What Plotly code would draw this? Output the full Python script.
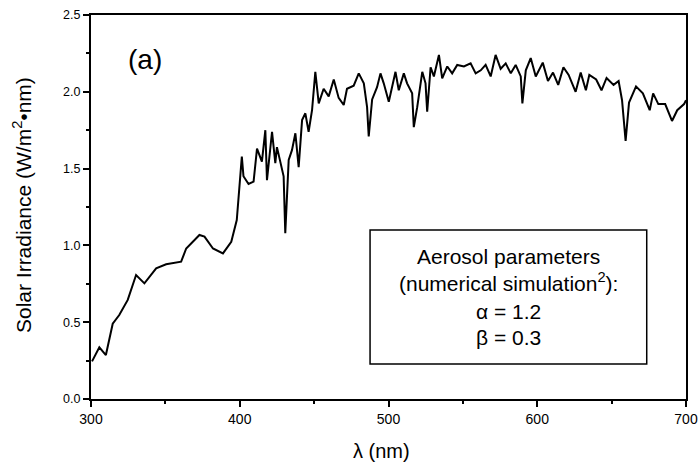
import plotly.graph_objects as go

# Wavelength (nm) and solar irradiance (W/m^2*nm)
wavelength = [
    300.7, 305.6, 310.0, 314.6, 319.0, 324.7, 330.3, 335.9, 343.8, 350.5,
    360.6, 364.0, 372.9, 376.3, 382.0, 388.7, 394.3, 398.0, 401.4, 402.5,
    405.9, 409.3, 411.6, 414.9, 417.2, 418.3, 421.7, 423.9, 425.0, 427.3,
    429.5, 430.6, 432.9, 435.1, 437.4, 439.6, 441.9, 444.1, 446.3, 448.6,
    450.8, 453.1, 456.4, 459.8, 463.2, 466.5, 469.9, 472.1, 476.6, 480.0,
    483.4, 485.6, 486.7, 489.0, 492.3, 494.6, 496.8, 500.2, 504.7, 506.9,
    510.3, 512.5, 515.9, 517.0, 519.3, 522.7, 524.9, 526.0, 528.3, 530.5,
    533.9, 536.1, 539.5, 542.8, 546.2, 550.7, 555.2, 558.6, 562.0, 565.3,
    568.7, 572.0, 575.4, 578.8, 582.2, 585.5, 588.9, 590.0, 592.3, 595.6,
    599.0, 603.7, 607.2, 610.6, 614.1, 617.6, 621.1, 625.8, 629.2, 632.7,
    635.0, 639.6, 643.2, 646.6, 651.3, 654.7, 657.0, 659.4, 661.7, 666.4,
    671.0, 675.6, 677.9, 681.4, 686.0, 690.6, 694.1, 698.7, 700.0,
]
irradiance = [
    0.245, 0.336, 0.286, 0.49, 0.547, 0.645, 0.807, 0.753, 0.85, 0.877,
    0.894, 0.98, 1.068, 1.057, 0.98, 0.948, 1.024, 1.165, 1.578, 1.45,
    1.40, 1.415, 1.63, 1.545, 1.75, 1.425, 1.74, 1.535, 1.64, 1.535,
    1.45, 1.08, 1.556, 1.62, 1.73, 1.51, 1.816, 1.86, 1.74, 1.88,
    2.13, 1.925, 2.02, 1.97, 2.08, 1.96, 1.914, 2.02, 2.04, 2.12,
    2.055, 1.90, 1.71, 1.95, 2.03, 2.12, 2.055, 1.935, 2.13, 2.01,
    2.12, 2.055, 1.99, 1.77, 1.90, 2.13, 2.055, 1.87, 2.16, 2.10,
    2.24, 2.087, 2.165, 2.12, 2.175, 2.165, 2.185, 2.12, 2.14, 2.175,
    2.10, 2.24, 2.15, 2.185, 2.12, 2.175, 2.10, 1.925, 2.14, 2.22,
    2.10, 2.19, 2.07, 2.125, 2.045, 2.16, 2.11, 2.00, 2.125, 2.01,
    2.11, 2.08, 2.01, 2.09, 2.045, 2.07, 1.945, 1.68, 1.93, 2.035,
    1.99, 1.88, 1.99, 1.92, 1.92, 1.81, 1.88, 1.92, 1.945,
]

x_ticks = [300, 400, 500, 600, 700]
y_ticks = [0.0, 0.5, 1.0, 1.5, 2.0, 2.5]
box_lines = ["Aerosol parameters", "(numerical simulation<sup>2</sup>):", "α = 1.2", "β = 0.3"]

FONT = "Liberation Sans, Arial, sans-serif"

fig = go.Figure()
fig.add_trace(go.Scatter(
    x=wavelength, y=irradiance, mode="lines",
    line=dict(color="black", width=2), showlegend=False, hoverinfo="skip",
))

axis_common = dict(
    showgrid=False, zeroline=False, showline=True, linecolor="black",
    linewidth=2, mirror=True, ticks="outside", ticklen=6, tickwidth=1.5,
    tickcolor="black", automargin=False,
)
fig.update_xaxes(
    range=[300, 700], tickvals=x_ticks, ticktext=[str(v) for v in x_ticks],
    tickfont=dict(family=FONT, size=14, color="black"),
    minor=dict(dtick=50, ticklen=3, ticks="outside", tickcolor="black", tickwidth=1.5),
    **axis_common,
)
fig.update_yaxes(
    range=[0, 2.5], tickvals=y_ticks, ticktext=[f"{v:.1f}" for v in y_ticks],
    tickfont=dict(family=FONT, size=12.5, color="black"),
    minor=dict(dtick=0.25, ticklen=3, ticks="outside", tickcolor="black", tickwidth=1.5),
    **axis_common,
)

annotations = [
    dict(text="λ (nm)", x=0.488, y=-0.135, xref="paper", yref="paper",
         xanchor="center", yanchor="middle",
         showarrow=False, font=dict(family=FONT, size=20, color="black")),
    dict(text="Solar Irradiance (W/m<sup>2</sup>•nm)", x=-0.116, y=0.505,
         xref="paper", yref="paper", textangle=-90, xanchor="center", yanchor="middle",
         showarrow=False, font=dict(family=FONT, size=21, color="black")),
    dict(text="(a)", x=0.091, y=0.883, xref="paper", yref="paper",
         xanchor="center", yanchor="middle",
         showarrow=False, font=dict(family=FONT, size=28, color="black")),
]
line_y = [0.372, 0.304, 0.228, 0.161]
for txt, yy in zip(box_lines, line_y):
    annotations.append(dict(text=txt, x=0.701, y=yy, xref="paper", yref="paper",
                            xanchor="center", yanchor="middle",
                            showarrow=False, font=dict(family=FONT, size=21, color="black")))

fig.update_layout(
    width=698, height=462,
    margin=dict(l=91, r=12, t=15, b=63),
    paper_bgcolor="white", plot_bgcolor="white",
    annotations=annotations,
    hovermode=False,
    shapes=[dict(type="rect", xref="paper", yref="paper",
                 x0=0.469, x1=0.934, y0=0.091, y1=0.440,
                 line=dict(color="black", width=1.5), fillcolor="white", layer="below")],
)

fig.write_html("out.html", config={"displayModeBar": False},
               post_script="document.body.style.margin='0';")
